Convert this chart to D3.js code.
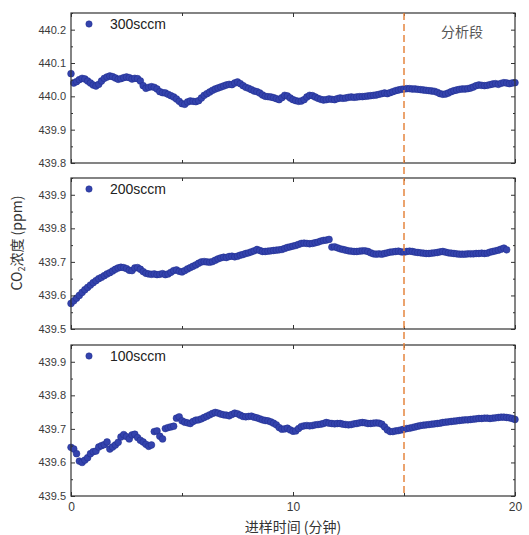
<!DOCTYPE html>
<html><head><meta charset="utf-8">
<script src="https://cdn.jsdelivr.net/npm/d3@7/dist/d3.min.js"></script>
<style>body{margin:0;background:#fff}svg{display:block}</style>
</head><body>
<script>
// ---------- data ----------
const sampleStep = 0.125; // minutes between samples

const series300 = [
440.068,440.040,440.044,440.050,440.054,440.052,440.046,440.040,
440.034,440.031,440.036,440.046,440.054,440.058,440.061,440.059,
440.055,440.051,440.053,440.056,440.058,440.056,440.052,440.054,
440.053,440.046,440.032,440.024,440.027,440.029,440.027,440.022,
440.014,440.011,440.010,440.006,440.002,439.998,439.992,439.985,
439.978,439.976,439.983,439.986,439.985,439.984,439.987,439.995,
440.003,440.008,440.013,440.018,440.022,440.025,440.028,440.031,
440.034,440.036,440.035,440.040,440.043,440.038,440.032,440.027,
440.024,440.020,440.016,440.014,440.010,440.004,440.000,439.999,
439.998,439.996,439.993,439.990,439.996,440.003,440.001,439.995,
439.990,439.987,439.985,439.986,439.990,439.998,440.003,440.002,
439.998,439.994,439.991,439.989,439.990,439.992,439.991,439.990,
439.993,439.995,439.994,439.995,439.997,439.998,439.997,439.998,
439.999,439.999,440.000,440.001,440.002,440.003,440.004,440.006,
440.008,440.010,440.008,440.011,440.014,440.017,440.019,440.021,
440.022,440.023,440.023,440.022,440.022,440.021,440.020,440.019,
440.018,440.017,440.016,440.015,440.012,440.008,440.006,440.007,
440.010,440.014,440.017,440.019,440.021,440.022,440.022,440.023,
440.025,440.028,440.032,440.034,440.033,440.032,440.033,440.035,
440.037,440.038,440.036,440.039,440.041,440.040,440.038,440.040,
440.041
];

const series200 = [
439.576,439.584,439.592,439.600,439.609,439.617,439.624,439.631,
439.638,439.644,439.650,439.654,439.659,439.664,439.668,439.673,
439.678,439.682,439.684,439.683,439.680,439.675,439.674,439.682,
439.683,439.678,439.671,439.666,439.664,439.663,439.664,439.662,
439.663,439.665,439.662,439.664,439.669,439.674,439.676,439.672,
439.670,439.674,439.679,439.683,439.687,439.691,439.696,439.700,
439.701,439.700,439.699,439.701,439.705,439.709,439.712,439.714,
439.713,439.716,439.717,439.715,439.717,439.720,439.722,439.725,
439.727,439.730,439.733,439.737,439.734,439.731,439.731,439.732,
439.733,439.734,439.735,439.736,439.737,439.740,439.743,439.745,
439.747,439.749,439.752,439.755,439.756,439.755,439.754,439.755,
439.757,439.759,439.762,439.764,439.765,439.767,439.744,439.745,
439.742,439.739,439.737,439.735,439.733,439.732,439.731,439.731,
439.732,439.733,439.733,439.731,439.727,439.724,439.723,439.724,
439.723,439.725,439.727,439.729,439.730,439.731,439.732,439.730,
439.729,439.731,439.732,439.731,439.729,439.728,439.727,439.726,
439.725,439.725,439.726,439.727,439.728,439.730,439.731,439.729,
439.727,439.726,439.725,439.724,439.723,439.723,439.723,439.724,
439.724,439.724,439.725,439.725,439.726,439.725,439.726,439.729,
439.731,439.733,439.735,439.738,439.741,439.736
];

const series100 = [
439.645,439.640,439.626,439.604,439.600,439.607,439.614,439.626,
439.632,439.634,439.646,439.650,439.653,439.661,439.640,439.646,
439.652,439.660,439.676,439.683,439.677,439.670,439.682,439.684,
439.674,439.666,439.661,439.654,439.648,439.652,439.692,439.694,
439.678,439.670,439.701,439.704,439.706,439.708,439.732,439.736,
439.724,439.720,439.718,439.716,439.722,439.726,439.727,439.730,
439.734,439.738,439.742,439.746,439.749,439.747,439.744,439.742,
439.741,439.739,439.743,439.747,439.745,439.741,439.737,439.736,
439.737,439.738,439.735,439.733,439.730,439.727,439.725,439.724,
439.721,439.717,439.712,439.704,439.699,439.700,439.702,439.697,
439.693,439.694,439.701,439.707,439.709,439.710,439.709,439.710,
439.712,439.713,439.714,439.716,439.719,439.717,439.716,439.715,
439.716,439.716,439.714,439.713,439.712,439.713,439.715,439.716,
439.718,439.719,439.718,439.716,439.716,439.717,439.718,439.717,
439.714,439.706,439.697,439.692,439.692,439.694,439.695,439.697,
439.699,439.701,439.702,439.704,439.706,439.708,439.710,439.711,
439.712,439.713,439.714,439.715,439.716,439.717,439.719,439.720,
439.721,439.722,439.723,439.724,439.725,439.726,439.727,439.727,
439.728,439.729,439.730,439.731,439.731,439.732,439.732,439.731,
439.732,439.733,439.734,439.735,439.735,439.734,439.733,439.731,
439.728
];

const seriesLabels = ["300sccm", "200sccm", "100sccm"];
const yDomains = [[439.8, 440.25], [439.5, 439.95], [439.5, 439.95]];
const yTicks = [
  [439.8, 439.9, 440.0, 440.1, 440.2],
  [439.5, 439.6, 439.7, 439.8, 439.9],
  [439.5, 439.6, 439.7, 439.8, 439.9]
];
const yMinorTicks = [
  [439.85, 439.95, 440.05, 440.15, 440.25],
  [439.55, 439.65, 439.75, 439.85, 439.95],
  [439.55, 439.65, 439.75, 439.85, 439.95]
];
const xDomain = [0, 20];
const xTicks = [0, 10, 20];
const xMinorTicks = [5, 15];
const analysisStart = 15;
const analysisLabel = "分析段";
const xTitle = "进样时间 (分钟)";
const yTitleMain = "CO";
const yTitleSub = "2";
const yTitleRest = "浓度 (ppm)";

// ---------- layout ----------
const W = 529, H = 535;
const left = 71, right = 515;
const panels = [
  { top: 13, bottom: 163 },
  { top: 178, bottom: 329 },
  { top: 345, bottom: 496 }
];
const allSeries = [series300, series200, series100];
const dotFill = "#3443ad", dotStroke = "#1f2c8c";
const latin = "'Liberation Sans', Arial, sans-serif";
const cjk = "'Noto Sans CJK SC', 'Liberation Sans', sans-serif";

const svg = d3.select("body").append("svg").attr("width", W).attr("height", H);
svg.append("rect").attr("width", W).attr("height", H).attr("fill", "#fff");

const x = d3.scaleLinear().domain(xDomain).range([left, right]);

panels.forEach((p, i) => {
  const y = d3.scaleLinear().domain(yDomains[i]).range([p.bottom, p.top]);
  const g = svg.append("g");

  // data points
  const data = allSeries[i].map((v, k) => ({ t: k * sampleStep, v }));
  g.append("g").selectAll("circle").data(data).join("circle")
    .attr("cx", d => x(d.t)).attr("cy", d => y(d.v)).attr("r", 3.4)
    .attr("fill", dotFill).attr("stroke", dotStroke).attr("stroke-width", 0.5);

  // axes
  const styleAxis = (sel, showLabels) => {
    sel.select(".domain").remove();
    sel.selectAll("line").attr("stroke", "#333").attr("stroke-width", 1);
    sel.selectAll("text").attr("fill", "#3a3a3a").attr("font-family", latin).attr("font-size", 11);
    if (!showLabels) sel.selectAll("text").remove();
  };
  g.append("g").attr("transform", `translate(${left},0)`)
    .call(d3.axisLeft(y).tickValues(yTicks[i]).tickFormat(d3.format(".1f")).tickSize(-4).tickPadding(5))
    .call(s => styleAxis(s, true));
  g.append("g").attr("transform", `translate(${left},0)`)
    .call(d3.axisLeft(y).tickValues(yMinorTicks[i].filter(v => v <= yDomains[i][1])).tickSize(-2).tickFormat(""))
    .call(s => styleAxis(s, false));
  g.append("g").attr("transform", `translate(${right},0)`)
    .call(d3.axisRight(y).tickValues(yTicks[i]).tickSize(-4).tickFormat(""))
    .call(s => styleAxis(s, false));
  g.append("g").attr("transform", `translate(${right},0)`)
    .call(d3.axisRight(y).tickValues(yMinorTicks[i].filter(v => v <= yDomains[i][1])).tickSize(-2).tickFormat(""))
    .call(s => styleAxis(s, false));
  g.append("g").attr("transform", `translate(0,${p.top})`)
    .call(d3.axisTop(x).tickValues(xTicks).tickSize(-4).tickFormat(""))
    .call(s => styleAxis(s, false));
  g.append("g").attr("transform", `translate(0,${p.top})`)
    .call(d3.axisTop(x).tickValues(xMinorTicks).tickSize(-3).tickFormat(""))
    .call(s => styleAxis(s, false));
  const bx = g.append("g").attr("transform", `translate(0,${p.bottom})`)
    .call(d3.axisBottom(x).tickValues(xTicks).tickSize(-4).tickPadding(6).tickFormat(d3.format("d")))
    .call(s => styleAxis(s, i === panels.length - 1));
  bx.selectAll("text").attr("font-size", 12);
  g.append("g").attr("transform", `translate(0,${p.bottom})`)
    .call(d3.axisBottom(x).tickValues(xMinorTicks).tickSize(-3).tickFormat(""))
    .call(s => styleAxis(s, false));

  // frame
  g.append("rect").attr("x", left).attr("y", p.top)
    .attr("width", right - left).attr("height", p.bottom - p.top)
    .attr("fill", "none").attr("stroke", "#333").attr("stroke-width", 1.2);

  // legend
  g.append("circle").attr("cx", 89).attr("cy", p.top + 11).attr("r", 3.2)
    .attr("fill", dotFill).attr("stroke", dotStroke).attr("stroke-width", 0.5);
  g.append("text").attr("x", 110).attr("y", p.top + 16)
    .attr("font-family", latin).attr("font-size", 14).attr("fill", "#222")
    .text(seriesLabels[i]);
});

// analysis-section marker
svg.append("line")
  .attr("x1", x(analysisStart)).attr("x2", x(analysisStart))
  .attr("y1", panels[0].top).attr("y2", panels[2].bottom)
  .attr("stroke", "#e5853f").attr("stroke-width", 1.5).attr("stroke-dasharray", "7,4");
svg.append("text").attr("x", 462).attr("y", 37).attr("text-anchor", "middle")
  .attr("font-family", cjk).attr("font-size", 14).attr("fill", "#555")
  .text(analysisLabel);

// axis titles
svg.append("text").attr("x", x(10)).attr("y", 532).attr("text-anchor", "middle")
  .attr("font-family", cjk).attr("font-size", 14).attr("fill", "#333")
  .text(xTitle);
const yt = svg.append("text").attr("transform", "translate(22,243) rotate(-90)")
  .attr("text-anchor", "middle").attr("font-family", cjk).attr("font-size", 14).attr("fill", "#333");
yt.append("tspan").text(yTitleMain);
yt.append("tspan").attr("font-size", 9).attr("dy", 3).text(yTitleSub);
yt.append("tspan").attr("dy", -3).text(yTitleRest);
</script>
</body></html>
